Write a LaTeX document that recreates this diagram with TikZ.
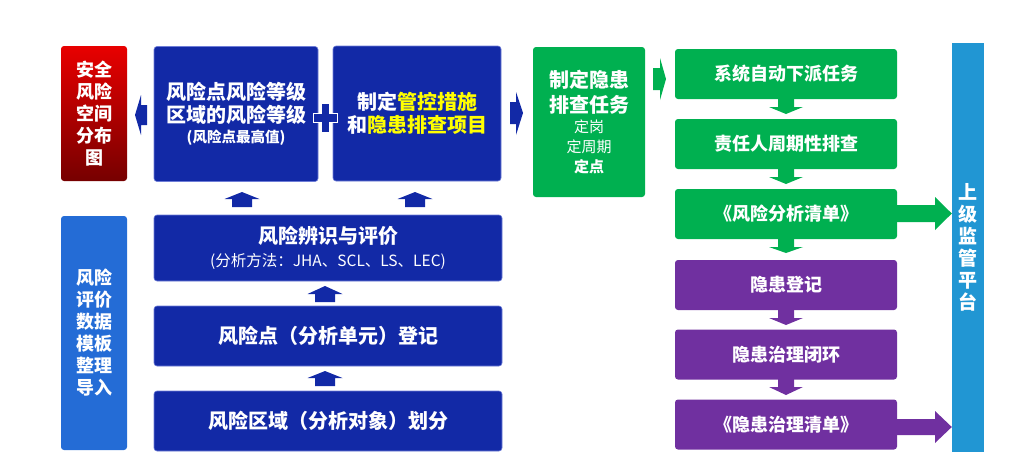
\documentclass[tikz,border=0pt]{standalone}
\usepackage{fontspec}
\newfontfamily\cjk{Noto Sans CJK SC}
\definecolor{dblue}{RGB}{18,41,166}
\definecolor{dbluee}{RGB}{110,125,215}
\definecolor{lblue}{RGB}{36,108,214}
\definecolor{gr}{RGB}{0,176,80}
\definecolor{pu}{RGB}{112,48,160}
\definecolor{barb}{RGB}{33,150,211}
\definecolor{redtop}{RGB}{232,0,0}
\definecolor{redbot}{RGB}{118,0,0}
\definecolor{yel}{RGB}{255,255,0}
\newcommand{\fs}[2]{\fontsize{#1}{#2}\selectfont}
\begin{document}
\begin{tikzpicture}[x=1pt,y=-1pt,
  box/.style={rectangle, rounded corners=3pt, inner sep=0pt, align=center, text=white, font=\cjk\bfseries},
  bb/.style={box, fill=dblue, draw=dbluee, line width=0.6pt},
  gb/.style={box, fill=gr},
  pb/.style={box, fill=pu},
]
\useasboundingbox (0,0) rectangle (1028,475);
% left column
\node[box, top color=redtop, bottom color=redbot, minimum width=66pt, minimum height=135pt, font=\cjk\bfseries\fs{18}{22}] (red) at (94,113.5) {安全\\风险\\空间\\分布\\图};
\node[box, fill=lblue, minimum width=66pt, minimum height=234pt, font=\cjk\bfseries\fs{18}{22}] (tmpl) at (94,333) {风险\\评价\\数据\\模板\\整理\\导入};
% top blue boxes
\node[bb, minimum width=164pt, minimum height=135pt, font=\cjk\bfseries\fs{20}{23}] (lvl) at (236,114) {风险点风险等级\\区域的风险等级\\[-3pt]\fs{14.5}{16}(风险点最高值)};
\node[bb, minimum width=168pt, minimum height=135pt, font=\cjk\bfseries\fs{20}{23}] (ctrl) at (417,113.5) {制定\textcolor{yel}{管控措施}\\和\textcolor{yel}{隐患排查项目}};
% lower blue boxes
\node[bb, minimum width=348pt, minimum height=66pt, font=\cjk\bfseries\fs{20}{23}] (ident) at (328,248) {风险辨识与评价\\\mdseries\fs{15.5}{20}(分析方法：JHA、SCL、LS、LEC)};
\node[bb, minimum width=348pt, minimum height=60pt, font=\cjk\bfseries\fs{20}{23}] (reg) at (328,336) {风险点（分析单元）登记};
\node[bb, minimum width=348pt, minimum height=60pt, font=\cjk\bfseries\fs{20}{23}] (area) at (328,421) {风险区域（分析对象）划分};
% green task box
\node[gb, minimum width=112pt, minimum height=150pt, font=\cjk\bfseries\fs{20}{25}] (task) at (589,122) {制定隐患\\排查任务\\[-5pt]\mdseries\fs{15}{19}定岗\\[-5pt]\mdseries\fs{15}{19}定周期\\[-5pt]\fs{15}{19}定点};
% right column
\node[gb, minimum width=222pt, minimum height=50pt, font=\cjk\bfseries\fs{18}{22}] (g1) at (786,74) {系统自动下派任务};
\node[gb, minimum width=222pt, minimum height=50pt, font=\cjk\bfseries\fs{18}{22}] (g2) at (786,144) {责任人周期性排查};
\node[gb, minimum width=222pt, minimum height=50pt, font=\cjk\bfseries\fs{18}{22}] (g3) at (786,214) {《风险分析清单》};
\node[pb, minimum width=222pt, minimum height=50pt, font=\cjk\bfseries\fs{18}{22}] (p1) at (786,285) {隐患登记};
\node[pb, minimum width=222pt, minimum height=50pt, font=\cjk\bfseries\fs{18}{22}] (p2) at (786,354.5) {隐患治理闭环};
\node[pb, minimum width=222pt, minimum height=50pt, font=\cjk\bfseries\fs{18}{22}] (p3) at (786,424.5) {《隐患治理清单》};
\node[box, rounded corners=0pt, fill=barb, minimum width=32pt, minimum height=409pt, font=\cjk\bfseries\fs{19}{22}] (bar) at (968,247.5) {上\\级\\监\\管\\平\\台};
% plus sign
\draw[white, fill=dblue, line width=1pt] (321,103) -- (329,103) -- (329,113) -- (337,113) -- (337,122) -- (329,122) -- (329,132) -- (321,132) -- (321,122) -- (313,122) -- (313,113) -- (321,113) -- cycle;
% block arrows
\newcommand{\blkup}[4]{\fill[#4] (#1-10,#2) -- (#1-10,#2-8) -- (#1-17.5,#2-8) -- (#1,#3) -- (#1+17.5,#2-8) -- (#1+10,#2-8) -- (#1+10,#2) -- cycle;}
\newcommand{\blkdown}[4]{\fill[#4] (#1-8,#2) -- (#1-8,#2+8) -- (#1-17,#2+8) -- (#1,#3) -- (#1+17,#2+8) -- (#1+8,#2+8) -- (#1+8,#2) -- cycle;}
\blkup{242}{207}{192}{dblue}
\blkup{415}{207}{192}{dblue}
\blkup{325}{302}{286}{dblue}
\blkup{325}{386}{371}{dblue}
\blkdown{786}{99}{114}{gr}
\blkdown{786}{169}{184}{gr}
\blkdown{786}{239}{253}{gr}
\blkdown{786}{310}{325}{pu}
\blkdown{786}{379}{395}{pu}
% left arrow to red box
\fill[dblue] (147,105) -- (141,105) -- (141,95) -- (135,115) -- (141,135) -- (141,125) -- (147,125) -- cycle;
% right arrow to task
\fill[dblue] (510,102) -- (516,102) -- (516,92) -- (523,113) -- (516,135) -- (516,124) -- (510,124) -- cycle;
% green arrow to g1
\fill[gr] (653,68) -- (660,68) -- (660,58) -- (666,79) -- (660,100) -- (660,90) -- (653,90) -- cycle;
% arrows to bar
\fill[gr] (g3.east |- 0,205) -- (935,205) -- (935,197) -- (bar.west |- 0,213.5) -- (935,230) -- (935,222) -- (g3.east |- 0,222) -- cycle;
\fill[pu] (p3.east |- 0,419) -- (935,419) -- (935,411) -- (bar.west |- 0,427) -- (935,443) -- (935,435) -- (p3.east |- 0,435) -- cycle;
\end{tikzpicture}
\end{document}
